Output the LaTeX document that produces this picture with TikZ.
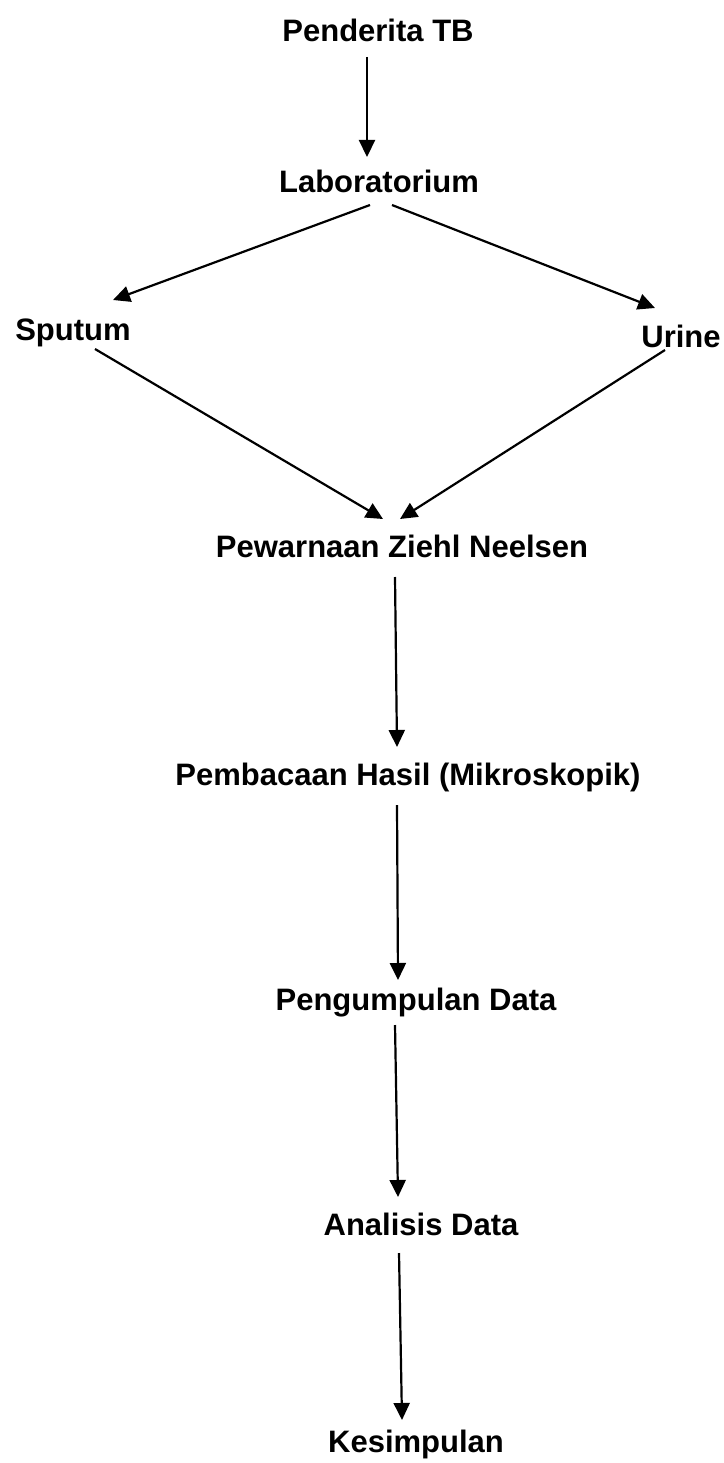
\documentclass[tikz,border=0pt]{standalone}
\usepackage{fontspec}
\setmainfont{Liberation Sans}
\usepackage{tikz}
\usetikzlibrary{arrows.meta}

\begin{document}
\begin{tikzpicture}[x=1pt, y=1pt,
    stage/.style={anchor=base, inner sep=0pt, font=\bfseries\fontsize{31}{36}\selectfont},
    flow/.style={->, line width=2.2pt, >={Triangle[length=17pt, width=16pt]}}]
    \useasboundingbox (0,0) rectangle (723,-1463);
    \node[stage] (tb) at (378,-42) {Penderita TB};
    \node[stage] (lab) at (379,-193) {Laboratorium};
    \node[stage] (sputum) at (73,-340) {Sputum};
    \node[stage] (urine) at (681,-347) {Urine};
    \node[stage] (zn) at (402,-557) {Pewarnaan Ziehl Neelsen};
    \node[stage] (baca) at (408,-785) {Pembacaan Hasil (Mikroskopik)};
    \node[stage] (data) at (416,-1010) {Pengumpulan Data};
    \node[stage] (analisis) at (421,-1235) {Analisis Data};
    \node[stage] (hasil) at (416,-1452) {Kesimpulan};
    % alur utama
    \draw[flow] ([shift={(-11,-15)}]tb.base) -- ([shift={(-12,36)}]lab.base);
    \draw[flow] ([shift={(-9,-12)}]lab.base) -- ([shift={(40,40)}]sputum.base);
    \draw[flow] ([shift={(13,-12)}]lab.base) -- ([shift={(-26,39)}]urine.base);
    \draw[flow] ([shift={(22,-9)}]sputum.base) -- ([shift={(-19,38)}]zn.base);
    \draw[flow] ([shift={(-16,-3)}]urine.base) -- ([shift={(-2,38)}]zn.base);
    \draw[flow] ([shift={(-7,-20)}]zn.base) -- ([shift={(-11,38)}]baca.base);
    \draw[flow] ([shift={(-11,-20)}]baca.base) -- ([shift={(-18,30)}]data.base);
    \draw[flow] ([shift={(-21,-15)}]data.base) -- ([shift={(-23,38)}]analisis.base);
    \draw[flow] ([shift={(-22,-18)}]analisis.base) -- ([shift={(-14,32)}]hasil.base);
\end{tikzpicture}
\end{document}
